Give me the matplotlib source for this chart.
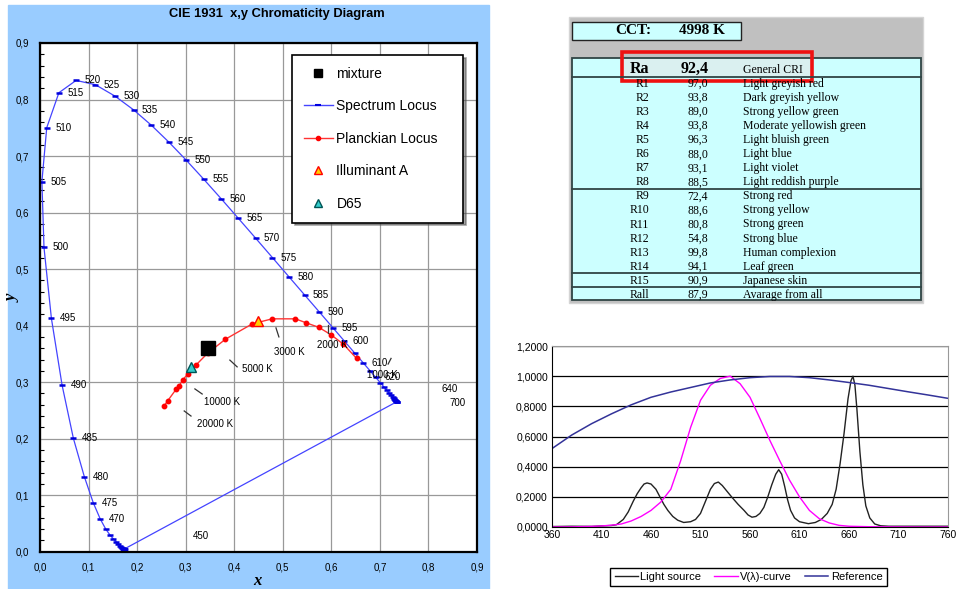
import matplotlib.pyplot as plt
from matplotlib.patches import Rectangle
from matplotlib.lines import Line2D

plt.rcParams['font.family'] = ['Liberation Sans', 'DejaVu Sans']

# --- spectrum locus, 380..700 nm every 5 nm
wl = list(range(380, 705, 5))
loc_x = [0.1741, 0.1740, 0.1738, 0.1736, 0.1733, 0.1730, 0.1726, 0.1721, 0.1714, 0.1703,
         0.1689, 0.1669, 0.1644, 0.1611, 0.1566, 0.1510, 0.1440, 0.1355, 0.1241, 0.1096,
         0.0913, 0.0687, 0.0454, 0.0235, 0.0082, 0.0039, 0.0139, 0.0389, 0.0743, 0.1142,
         0.1547, 0.1929, 0.2296, 0.2658, 0.3016, 0.3373, 0.3731, 0.4087, 0.4441, 0.4788,
         0.5125, 0.5448, 0.5752, 0.6029, 0.6270, 0.6482, 0.6658, 0.6801, 0.6915, 0.7006,
         0.7079, 0.7140, 0.7190, 0.7230, 0.7260, 0.7283, 0.7300, 0.7311, 0.7320, 0.7327,
         0.7334, 0.7340, 0.7344, 0.7346, 0.7347]
loc_y = [0.0050, 0.0050, 0.0049, 0.0049, 0.0048, 0.0048, 0.0048, 0.0048, 0.0051, 0.0058,
         0.0069, 0.0086, 0.0109, 0.0138, 0.0177, 0.0227, 0.0297, 0.0399, 0.0578, 0.0868,
         0.1327, 0.2007, 0.2950, 0.4127, 0.5384, 0.6548, 0.7502, 0.8120, 0.8338, 0.8262,
         0.8059, 0.7816, 0.7543, 0.7243, 0.6923, 0.6589, 0.6245, 0.5896, 0.5547, 0.5202,
         0.4866, 0.4544, 0.4242, 0.3965, 0.3725, 0.3514, 0.3340, 0.3197, 0.3083, 0.2993,
         0.2920, 0.2859, 0.2809, 0.2770, 0.2740, 0.2717, 0.2700, 0.2689, 0.2680, 0.2673,
         0.2666, 0.2660, 0.2656, 0.2654, 0.2653]
locus_labels = [470, 475, 480, 485, 490, 495, 500, 505, 510, 515, 520, 525, 530, 535, 540,
                545, 550, 555, 560, 565, 570, 575, 580, 585, 590, 595, 600, 610, 620]
far_labels = {450: (55, 4), 640: (38, 3), 700: (38, -1)}

# --- planckian locus (20000 K .. 1000 K)
planck_x = [0.255, 0.263, 0.280, 0.287, 0.294, 0.305, 0.321, 0.345, 0.382, 0.437,
            0.478, 0.526, 0.548, 0.574, 0.599, 0.625, 0.652]
planck_y = [0.257, 0.267, 0.287, 0.294, 0.304, 0.315, 0.330, 0.351, 0.376, 0.403,
            0.412, 0.412, 0.405, 0.397, 0.384, 0.367, 0.342]
cct_text = ['20000 K', '10000 K', '5000 K', '3000 K', '2000 K', '1000 K']
cct_text_xy = [(0.323, 0.226), (0.338, 0.265), (0.416, 0.323), (0.482, 0.353), (0.570, 0.365), (0.673, 0.312)]
cct_leader = [((0.297, 0.249), (0.311, 0.240)), ((0.319, 0.288), (0.334, 0.279)),
              ((0.391, 0.339), (0.406, 0.327)), ((0.486, 0.396), (0.492, 0.380)),
              ((0.593, 0.401), (0.593, 0.387)), ((0.723, 0.342), (0.717, 0.332))]

mix_xy = (0.345, 0.360)
illA_xy = (0.448, 0.408)
d65_xy = (0.311, 0.327)

# --- CRI table
cct_value = '4998 K'
ra_value = '92,4'
r_names = ['R1', 'R2', 'R3', 'R4', 'R5', 'R6', 'R7', 'R8', 'R9', 'R10', 'R11', 'R12', 'R13', 'R14', 'R15', 'Rall']
r_values = ['97,0', '93,8', '89,0', '93,8', '96,3', '88,0', '93,1', '88,5', '72,4', '88,6',
            '80,8', '54,8', '99,8', '94,1', '90,9', '87,9']
r_desc = ['Light greyish red', 'Dark greyish yellow', 'Strong yellow green', 'Moderate yellowish green',
          'Light bluish green', 'Light blue', 'Light violet', 'Light reddish purple', 'Strong red',
          'Strong yellow', 'Strong green', 'Strong blue', 'Human complexion', 'Leaf green',
          'Japanese skin', 'Avarage from all']

# --- spectra
src_wl = [360, 380, 400, 420, 425, 432, 437, 442, 446, 450, 453, 456, 460, 465, 469, 473, 477, 482,
          487, 493, 500, 505, 510, 515, 520, 524, 528, 532, 537, 542, 548, 554, 558, 562, 566, 570,
          574, 578, 582, 586, 589, 592, 595, 598, 601, 605, 610, 619, 626, 632, 638, 643, 647, 651,
          655, 659, 662, 664, 666, 668, 671, 674, 677, 681, 686, 692, 700, 730, 760]
src_val = [0.003, 0.005, 0.004, 0.01, 0.015, 0.05, 0.1, 0.17, 0.22, 0.26, 0.285, 0.292, 0.285, 0.25,
           0.2, 0.15, 0.11, 0.07, 0.045, 0.03, 0.035, 0.05, 0.09, 0.17, 0.25, 0.288, 0.298, 0.275,
           0.235, 0.195, 0.15, 0.11, 0.08, 0.065, 0.07, 0.09, 0.13, 0.2, 0.28, 0.35, 0.38, 0.35,
           0.27, 0.18, 0.11, 0.06, 0.035, 0.022, 0.03, 0.05, 0.09, 0.15, 0.25, 0.42, 0.62, 0.85,
           0.97, 1.0, 0.94, 0.78, 0.5, 0.28, 0.14, 0.06, 0.02, 0.008, 0.005, 0.005, 0.005]
v_wl = [360, 380, 400, 410, 420, 430, 440, 450, 460, 470, 480, 490, 500, 510, 520, 530, 540, 550,
        560, 570, 580, 590, 600, 610, 620, 630, 640, 650, 660, 680, 700, 730, 760]
v_val = [0.0, 0.001, 0.004, 0.007, 0.012, 0.02, 0.04, 0.07, 0.11, 0.166, 0.25, 0.44, 0.66, 0.84,
         0.94, 0.985, 1.0, 0.95, 0.86, 0.72, 0.575, 0.44, 0.31, 0.2, 0.11, 0.055, 0.027, 0.011,
         0.005, 0.002, 0.001, 0.0, 0.0]
ref_wl = [360, 380, 400, 420, 440, 460, 480, 500, 520, 540, 560, 580, 600, 620, 640, 660, 680,
          700, 720, 740, 760]
ref_val = [0.52, 0.61, 0.685, 0.75, 0.81, 0.86, 0.895, 0.925, 0.955, 0.975, 0.99, 0.998, 0.998,
           0.99, 0.975, 0.958, 0.94, 0.918, 0.896, 0.875, 0.853]

W, H = 957, 589
fig = plt.figure(figsize=(W / 100, H / 100), dpi=100)
fig.add_artist(Rectangle((8 / W, 0), 481 / W, 584 / H, transform=fig.transFigure,
                         color='#99CCFF', zorder=-10))


def comma(v, n):
    return f"{v:.{n}f}".replace('.', ',')


# ================= chromaticity diagram =================
ax = fig.add_axes([40 / W, 1 - 551.7 / H, 437 / W, 508.7 / H])
ax.set_xlim(0, 0.9)
ax.set_ylim(0, 0.9)
ticks = [i / 10 for i in range(10)]
ax.set_xticks(ticks)
ax.set_yticks(ticks)
ax.set_xticklabels([comma(t, 1) for t in ticks])
ax.set_yticklabels([comma(t, 1) for t in ticks])
ax.set_yticks([i / 50 for i in range(46)], minor=True)
ax.tick_params(direction='in', length=0, labelsize=7, pad=8)
ax.tick_params(axis='y', which='minor', direction='in', length=3, width=0.8)
ax.grid(True, color='#999999', lw=0.9)
ax.set_axisbelow(True)
for s in ax.spines.values():
    s.set_linewidth(1.6)

ax.plot(loc_x + [loc_x[0]], loc_y + [loc_y[0]], color='#4444FF', lw=0.9)
ax.plot(loc_x, loc_y, ls='none', marker='_', ms=5, mew=1.8, color='#0000DD')
for w in locus_labels:
    i = wl.index(w)
    ax.annotate(str(w), (loc_x[i], loc_y[i]), xytext=(6, 0), textcoords='offset points',
                fontsize=7, va='center', ha='left')
for w, off in far_labels.items():
    i = wl.index(w)
    ax.annotate(str(w), (loc_x[i], loc_y[i]), xytext=off, textcoords='offset points',
                fontsize=7, va='center', ha='left')

ax.plot(planck_x, planck_y, color='#FF3333', lw=1, marker='o', ms=3.2, mfc='red', mec='red')
for t, (tx, ty) in zip(cct_text, cct_text_xy):
    ax.text(tx, ty, t, fontsize=7, va='center', ha='left')
for (a, b) in cct_leader:
    ax.plot([a[0], b[0]], [a[1], b[1]], color='#333333', lw=0.9)

ax.plot(*mix_xy, marker='s', ms=10, color='black', ls='none')
ax.plot(*illA_xy, marker='^', ms=7, mfc='#FFCC00', mec='red', mew=1, ls='none')
ax.plot(*d65_xy, marker='^', ms=7, mfc='#33CCCC', mec='#005555', mew=1, ls='none')

handles = [Line2D([], [], marker='s', ls='none', color='black', ms=6),
           Line2D([], [], color='#4444FF', lw=1, marker='_', ms=4, mew=1.5, mec='#0000DD'),
           Line2D([], [], color='#FF3333', lw=1, marker='o', ms=3, mfc='red', mec='red'),
           Line2D([], [], marker='^', ls='none', ms=6, mfc='#FFCC00', mec='red'),
           Line2D([], [], marker='^', ls='none', ms=6, mfc='#33CCCC', mec='#005555')]
leg = ax.legend(handles, ['mixture', 'Spectrum Locus', 'Planckian Locus', 'Illuminant A', 'D65'],
                loc='upper left', mode='expand',
                bbox_to_anchor=((292 - 40) / 437, (551.7 - 223) / 508.7, 171 / 437, 168 / 508.7),
                fontsize=10, labelspacing=1.33, borderpad=0.85, handlelength=2.1,
                handletextpad=0.25, fancybox=False, shadow=True, edgecolor='black',
                framealpha=1, borderaxespad=0)
leg.get_frame().set_linewidth(1.2)

ax.set_xlabel('x', fontsize=12, fontweight='bold', fontstyle='italic', family='Liberation Serif')
ax.set_ylabel('y', fontsize=12, fontweight='bold', fontstyle='italic', family='Liberation Serif')
ax.xaxis.set_label_coords(0.497, -0.042)
ax.yaxis.set_label_coords(-0.045, 0.499)
fig.text(277 / W, 1 - 14 / H, 'CIE 1931  x,y Chromaticity Diagram', ha='center', va='center',
         fontsize=9.3, fontweight='bold')

# ================= CRI table =================
tb = fig.add_axes([0, 0, 1, 1])
tb.set_xlim(0, W)
tb.set_ylim(H, 0)
tb.axis('off')
serif = 'Liberation Serif'
lc = '#2F4444'
tb.add_patch(Rectangle((569, 17), 354, 286, fc='#C0C0C0', ec='#D4D4D4', lw=1))
tb.add_patch(Rectangle((572, 22), 169, 18, fc='#CCFFFF', ec='#222222', lw=1))
tb.text(615, 31, 'CCT:', family=serif, fontweight='bold', fontsize=11, va='center')
tb.text(679, 31, cct_value, family=serif, fontweight='bold', fontsize=11, va='center')
tb.add_patch(Rectangle((572, 58), 349, 242, fc='#CCFFFF', ec=lc, lw=1.3))
tb.add_patch(Rectangle((622, 58.5), 190, 18, fc='#DAF0F0', ec='none'))
for yy in [76.7, 189.3, 273.3, 287.3]:
    tb.plot([572, 921], [yy, yy], color=lc, lw=1.3)
tb.text(649, 69, 'Ra', family=serif, fontweight='bold', fontsize=11.5, va='center', ha='right')
tb.text(709, 69, ra_value, family=serif, fontweight='bold', fontsize=11.5, va='center', ha='right')
tb.text(743, 70, 'General CRI', family=serif, fontsize=8.5, va='center', ha='left')
for i, (n, v, d) in enumerate(zip(r_names, r_values, r_desc)):
    yy = 84 + 14.05 * i
    tb.text(649, yy, n, family=serif, fontsize=8.5, va='center', ha='right')
    tb.text(708, yy, v, family=serif, fontsize=8.5, va='center', ha='right')
    tb.text(743, yy, d, family=serif, fontsize=8.5, va='center', ha='left')
tb.add_patch(Rectangle((622, 52), 190, 29, fill=False, ec='#EE1111', lw=2.6))

# ================= spectra =================
ax2 = fig.add_axes([552 / W, 1 - 527 / H, 396 / W, 181 / H])
ax2.set_xlim(360, 760)
ax2.set_ylim(0, 1.2)
xt = list(range(360, 761, 50))
yt = [i / 5 for i in range(7)]
ax2.set_xticks(xt)
ax2.set_yticks(yt)
ax2.set_yticklabels([comma(t, 4) for t in yt])
ax2.tick_params(labelsize=7.5, length=0)
ax2.tick_params(axis='x', pad=2)
ax2.tick_params(axis='y', pad=3)
ax2.grid(True, axis='y', color='black', lw=0.9)
ax2.spines['top'].set_color('#999999')
ax2.spines['right'].set_color('#999999')
l1, = ax2.plot(src_wl, src_val, color='#222222', lw=1)
l2, = ax2.plot(v_wl, v_val, color='#FF00FF', lw=1)
l3, = ax2.plot(ref_wl, ref_val, color='#333399', lw=1.1)
leg2 = fig.legend([l1, l2, l3], ['Light source', 'V(λ)-curve', 'Reference'], loc='center',
                  bbox_to_anchor=(748.5 / W, 1 - 577 / H), ncol=3, fontsize=8,
                  handlelength=2.1, columnspacing=1.2, handletextpad=0.2, fancybox=False,
                  edgecolor='black', framealpha=1, borderpad=0.4)
leg2.get_frame().set_linewidth(1)

fig.savefig('out.png', dpi=100)
